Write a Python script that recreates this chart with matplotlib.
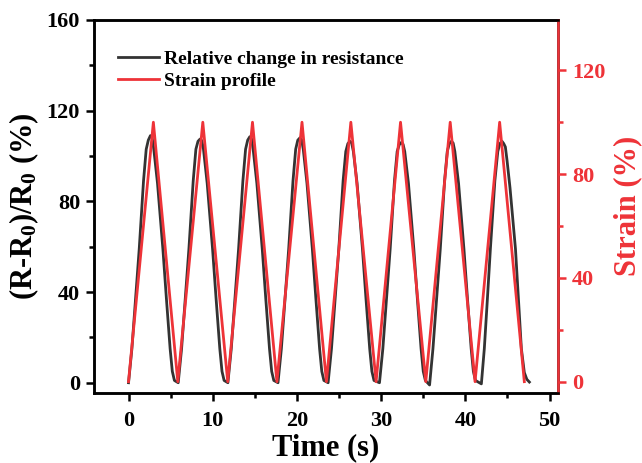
import matplotlib
matplotlib.use("Agg")
import matplotlib.pyplot as plt
from matplotlib.ticker import MultipleLocator

plt.rcParams['font.family'] = 'Liberation Serif'
plt.rcParams['font.weight'] = 'bold'
plt.rcParams['mathtext.fontset'] = 'custom'
plt.rcParams['mathtext.rm'] = 'Liberation Serif:bold'
plt.rcParams['mathtext.bf'] = 'Liberation Serif:bold'
plt.rcParams['mathtext.default'] = 'rm'

# relative change in resistance (cycle by cycle)
t_res = [0.0, 0.4, 0.85, 1.27, 1.78, 2.1, 2.35, 2.6, 2.8, 3.0, 3.44, 4.08, 4.5, 4.94, 5.2, 5.45,
         5.9, 6.3, 6.75, 7.17, 7.68, 8.0, 8.25, 8.5, 8.7, 8.9, 9.34, 9.98, 10.4, 10.84, 11.1, 11.35,
         11.8, 12.2, 12.65, 13.07, 13.58, 13.9, 14.15, 14.4, 14.6, 14.8, 15.24, 15.88, 16.3, 16.74, 17.0, 17.25,
         17.75, 18.15, 18.6, 19.02, 19.53, 19.85, 20.1, 20.35, 20.55, 20.75, 21.19, 21.83, 22.25, 22.69, 22.95, 23.2,
         23.7, 24.1, 24.55, 24.97, 25.48, 25.8, 26.05, 26.3, 26.5, 26.7, 27.14, 27.78, 28.2, 28.64, 28.9, 29.15,
         29.8, 30.2, 30.65, 31.07, 31.58, 31.9, 32.15, 32.4, 32.6, 32.8, 33.24, 33.88, 34.3, 34.74, 35.0, 35.25,
         35.75, 36.15, 36.6, 37.02, 37.53, 37.85, 38.1, 38.35, 38.55, 38.75, 39.19, 39.83, 40.25, 40.69, 40.95, 41.2,
         41.9, 42.25, 42.6, 42.97, 43.5, 43.85, 44.1, 44.35, 44.55, 44.75, 44.95, 45.3, 45.95, 46.3, 46.65, 47.0, 47.3, 47.6]
r_res = [0, 15, 38, 59, 89, 103, 107, 109, 108.2, 103, 88, 59, 37, 15, 5, 1,
         0, 15, 38, 59, 89, 103, 106.5, 107.5, 106.8, 103, 88, 59, 37, 15, 5, 1,
         0, 15, 38, 59, 89, 103, 107, 108.5, 107.7, 103, 88, 59, 37, 15, 5, 1,
         0, 15, 38, 59, 89, 103, 107, 108, 107.2, 103, 88, 59, 37, 15, 5, 1,
         0, 15, 38, 59, 89, 102, 105.5, 106.5, 105.7, 102, 88, 59, 37, 15, 5, 1,
         0, 15, 38, 59, 89, 102, 105, 106, 105.2, 102, 88, 59, 37, 15, 5, 1,
         -1, 15, 38, 59, 89, 102, 105.5, 106.5, 105.7, 102, 88, 59, 37, 15, 5, 1,
         -0.5, 15, 36, 59, 89, 102, 105.5, 106.5, 105.5, 104, 98, 86, 59, 37, 15, 4.5, 1.5, 0.3]

# strain profile (triangle wave)
t_strain = [0, 2.95, 5.85, 8.82, 11.78, 14.72, 17.62, 20.6, 23.5, 26.4, 29.4, 32.3, 35.3, 38.2, 41.15, 44.07, 47.0]
strain = [0, 100, 0, 100, 0, 100, 0, 100, 0, 100, 0, 100, 0, 100, 0, 100, 0]

red = '#EE3338'
dark = '#333333'

fig = plt.figure(figsize=(6.42, 4.63), dpi=100)
ax = fig.add_axes([94/642, 1-392.7/463, (558-94)/642, (392.7-20)/463])
ax2 = ax.twinx()

l1, = ax.plot(t_res, r_res, color=dark, lw=2.0, label='Relative change in resistance')
l2, = ax2.plot(t_strain, strain, color=red, lw=2.0, label='Strain profile')

ax.set_xlim(-4.1, 51)
ax.set_ylim(-4.4, 160)
ax2.set_ylim(-4.25, 139.4)

ax.xaxis.set_major_locator(MultipleLocator(10))
ax.xaxis.set_minor_locator(MultipleLocator(5))
ax.yaxis.set_major_locator(MultipleLocator(40))
ax.yaxis.set_minor_locator(MultipleLocator(20))
ax2.yaxis.set_major_locator(MultipleLocator(40))
ax2.yaxis.set_minor_locator(MultipleLocator(20))

for a in (ax, ax2):
    for s in a.spines.values():
        s.set_linewidth(1.8)
ax2.spines['right'].set_color(red)

ax.tick_params(which='major', direction='out', length=6, width=1.8, labelsize=16)
ax.tick_params(which='minor', direction='out', length=3.5, width=1.8)
ax.tick_params(axis='x', pad=7)
ax.tick_params(axis='y', pad=4)
ax.tick_params(top=False, right=False, which='both')
ax2.tick_params(which='major', direction='out', length=6, width=1.8, labelsize=16,
                colors=red, pad=4)
ax2.tick_params(which='minor', direction='out', length=3.5, width=1.8, colors=red)

ax.set_xlabel('Time (s)', fontsize=22, fontweight='bold', labelpad=2)
ax.set_ylabel(r'(R-R$_{0}$)/R$_{0}$ (%)', fontsize=22, fontweight='bold', labelpad=4)
ax2.set_ylabel('Strain (%)', fontsize=22, fontweight='bold', color=red, labelpad=6)

fig.legend([l1, l2], [l1.get_label(), l2.get_label()],
           loc='upper left', bbox_to_anchor=(118/642, 1-50/463),
           frameon=False, handlelength=2.1, handletextpad=0.25,
           borderpad=0, borderaxespad=0, labelspacing=0.25,
           prop={'family': 'Liberation Serif', 'weight': 'bold', 'size': 14})

fig.savefig('out.png', dpi=100)
